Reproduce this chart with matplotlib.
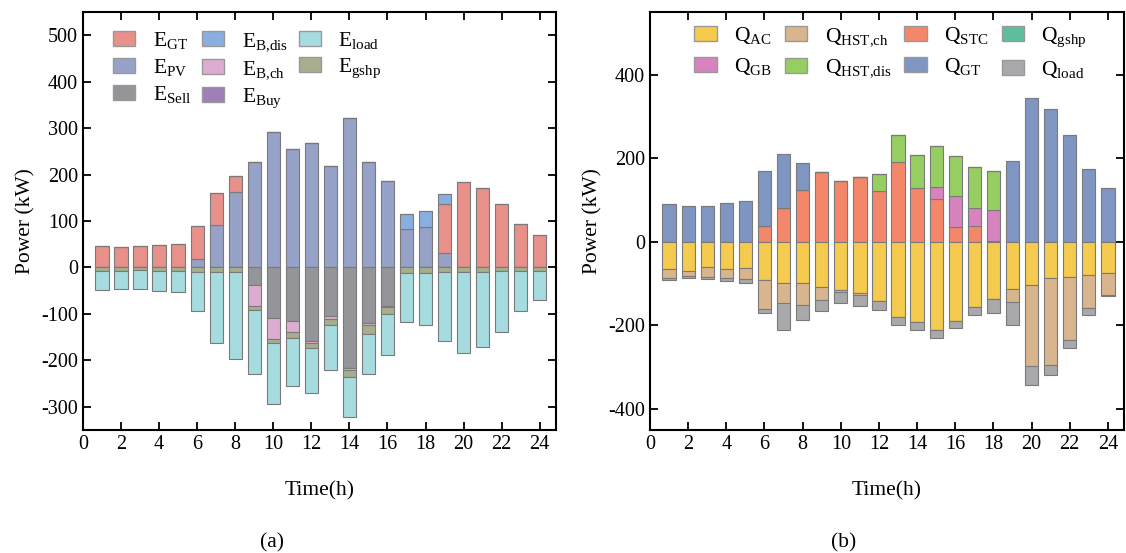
import numpy as np
import matplotlib.pyplot as plt
from matplotlib.patches import Patch

plt.rcParams['font.family'] = ['Liberation Serif', 'DejaVu Serif']
plt.rcParams['mathtext.fontset'] = 'custom'
plt.rcParams['mathtext.rm'] = 'Liberation Serif'
plt.rcParams['mathtext.it'] = 'Liberation Serif:italic'
plt.rcParams['axes.unicode_minus'] = False

hours = np.arange(1, 25)

# (a) electric power balance, kW
e_pv = [0, 0, 0, 0, 0, 19, 91, 162, 227, 291, 255, 268, 219, 322, 227, 187,
        83, 88, 32, 0, 0, 0, 0, 0]
e_gt = [47, 45, 46, 49, 51, 71, 70, 34, 0, 0, 0, 0, 0, 0, 0, 0,
        0, 0, 104, 183, 170, 136, 93, 69]
e_bdis = [0, 0, 0, 0, 0, 0, 0, 0, 0, 0, 0, 0, 0, 0, 0, 0,
          32, 33, 22, 0, 0, 0, 0, 0]
e_sell = [0, 0, 0, 0, 0, 0, 0, 0, 38, 109, 116, 158, 105, 216, 120, 82,
          0, 0, 0, 0, 0, 0, 0, 0]
e_bch = [0, 0, 0, 0, 0, 0, 0, 0, 44, 45, 24, 5, 5, 5, 5, 4,
         0, 0, 0, 0, 0, 0, 0, 0]
e_gshp = [7, 7, 6, 7, 7, 9, 9, 9, 9, 9, 12, 11, 14, 14, 18, 15,
          13, 12, 9, 9, 9, 8, 7, 7]
e_load = [42, 40, 41, 43, 45, 84, 153, 188, 138, 130, 104, 96, 97, 88, 86, 87,
          104, 111, 150, 176, 163, 130, 87, 63]
e_buy = [0] * 24

# (b) heat power balance, kW
q_stc = [0, 0, 0, 0, 0, 37, 82, 125, 166, 145, 154, 122, 190, 128, 102, 35,
         38, 2, 0, 0, 0, 0, 0, 0]
q_gb = [0, 0, 0, 0, 0, 0, 0, 0, 0, 0, 0, 0, 0, 0, 29, 74,
        42, 75, 0, 0, 0, 0, 0, 0]
q_hstdis = [0, 0, 0, 0, 0, 0, 0, 0, 0, 0, 0, 41, 66, 80, 99, 97,
            98, 92, 0, 0, 0, 0, 0, 0]
q_gt = [90, 86, 87, 94, 97, 133, 128, 64, 0, 0, 0, 0, 0, 0, 0, 0,
        0, 0, 194, 343, 319, 255, 174, 130]
q_gshp = [0] * 24
q_ac = [66, 69, 60, 64, 62, 90, 99, 98, 109, 114, 123, 142, 179, 191, 211, 190,
        156, 136, 112, 104, 86, 83, 80, 75]
q_hstch = [21, 13, 23, 23, 27, 70, 47, 52, 31, 5, 5, 0, 0, 0, 0, 0,
           0, 0, 32, 194, 209, 151, 78, 51]
q_load = [4, 4, 5, 7, 9, 10, 65, 37, 26, 27, 26, 22, 20, 19, 18, 17,
          20, 34, 54, 45, 24, 21, 16, 4]

fig = plt.figure(figsize=(11.26, 5.53), dpi=100)
ax1 = fig.add_axes([0.0737, 0.2224, 0.420, 0.756])
ax2 = fig.add_axes([0.5773, 0.2224, 0.421, 0.756])

w = 0.7
ec = '#7a7a7a'


def stack(ax, series, sign):
    bottom = np.zeros(24)
    for vals, col in series:
        v = np.array(vals, dtype=float) * sign
        ax.bar(hours, v, w, bottom=bottom, color=col, edgecolor=ec, linewidth=0.8)
        bottom += v


ca = {'gt': '#E8908A', 'bdis': '#8AAEDF', 'load': '#A6DCE0', 'pv': '#97A2C8',
      'bch': '#DDADD1', 'gshp': '#A7AE8D', 'sell': '#949599', 'buy': '#9F7FB8'}
stack(ax1, [(e_pv, ca['pv']), (e_gt, ca['gt']), (e_bdis, ca['bdis']), (e_buy, ca['buy'])], 1)
stack(ax1, [(e_sell, ca['sell']), (e_bch, ca['bch']), (e_gshp, ca['gshp']), (e_load, ca['load'])], -1)

cb = {'ac': '#F4CB4E', 'hstch': '#D9B58E', 'stc': '#F4876A', 'gshp': '#5DBE9E',
      'gb': '#D783BE', 'hstdis': '#97CE62', 'gt': '#7F96C2', 'load': '#A9A9AB'}
stack(ax2, [(q_stc, cb['stc']), (q_gb, cb['gb']), (q_hstdis, cb['hstdis']),
            (q_gt, cb['gt']), (q_gshp, cb['gshp'])], 1)
stack(ax2, [(q_ac, cb['ac']), (q_hstch, cb['hstch']), (q_load, cb['load'])], -1)

for ax in (ax1, ax2):
    ax.set_xlim(0, 24.85)
    ax.set_xticks(np.arange(0, 25, 2))
    ax.tick_params(direction='in', top=True, right=True, length=6, width=1.3,
                   labelsize=14.5)
    for s in ax.spines.values():
        s.set_linewidth(1.5)
    ax.set_xlabel('Time(h)', fontsize=15.5, labelpad=20)
    ax.set_ylabel('Power (kW)', fontsize=15.5)

ax1.set_ylim(-350, 550)
ax1.set_yticks(np.arange(-300, 501, 100))
ax2.set_ylim(-450, 550)
ax2.set_yticks(np.arange(-400, 401, 200))

la = [('gt', 'E_{GT}'), ('pv', 'E_{PV}'), ('sell', 'E_{Sell}'),
      ('bdis', 'E_{B{,}dis}'), ('bch', 'E_{B{,}ch}'), ('buy', 'E_{Buy}'),
      ('load', 'E_{load}'), ('gshp', 'E_{gshp}')]
h = [Patch(facecolor=ca[k], edgecolor='#999999') for k, _ in la]
ax1.legend(h, [r'$\mathregular{' + t + '}$' for _, t in la], ncol=3, frameon=False,
           loc='upper left', bbox_to_anchor=(0.063, 0.957), fontsize=15.5,
           borderpad=0, borderaxespad=0,
           handlelength=1.05, handleheight=0.7, columnspacing=0.5,
           labelspacing=0.28, handletextpad=0.8)

lb = [('ac', 'Q_{AC}'), ('gb', 'Q_{GB}'), ('hstch', 'Q_{HST{,}ch}'), ('hstdis', 'Q_{HST{,}dis}'),
      ('stc', 'Q_{STC}'), ('gt', 'Q_{GT}'), ('gshp', 'Q_{gshp}'), ('load', 'Q_{load}')]
h = [Patch(facecolor=cb[k], edgecolor='#999999') for k, _ in lb]
ax2.legend(h, [r'$\mathregular{' + t + '}$' for _, t in lb], ncol=4, frameon=False,
           loc='upper left', bbox_to_anchor=(0.093, 0.968), fontsize=15.5,
           borderpad=0, borderaxespad=0,
           handlelength=1.05, handleheight=0.7, columnspacing=0.6,
           labelspacing=0.44, handletextpad=0.8)

fig.text(0.2415, 0.01, '(a)', fontsize=15.5, ha='center')
fig.text(0.749, 0.01, '(b)', fontsize=15.5, ha='center')

fig.savefig('out.png', dpi=100)
